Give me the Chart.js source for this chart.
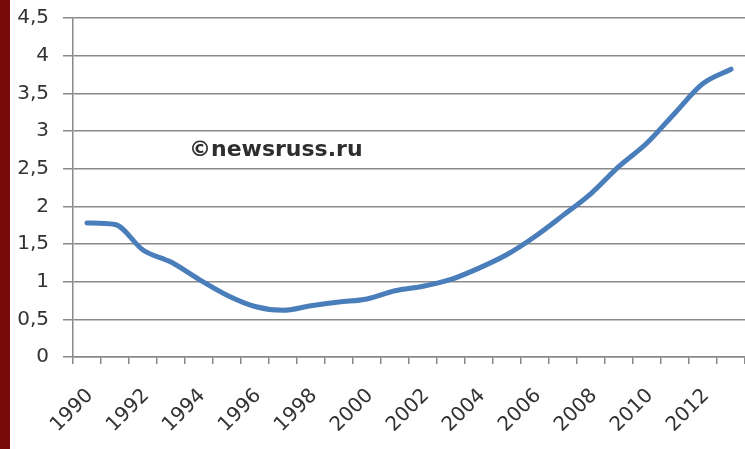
<!DOCTYPE html>
<html>
<head>
<meta charset="utf-8">
<script src="https://cdn.jsdelivr.net/npm/chart.js@4.4.1/dist/chart.umd.min.js"></script>
<style>
  body { margin: 0; background: #fff; }
  #wrap { position: relative; width: 745px; height: 449px; overflow: hidden; }
  #strip { position: absolute; left: 0; top: 0; width: 10px; height: 449px; background: #7a0a0a; }
  #box { position: absolute; left: 10px; top: 0; width: 735px; height: 449px; }
  #mark {
    position: absolute; left: 189px; top: 138px;
    font: bold 22px/22px "DejaVu Sans", sans-serif; color: #2e2e2e;
  }
</style>
</head>
<body>
<div id="wrap">
  <div id="strip"></div>
  <div id="box"><canvas id="chart"></canvas></div>
  <div id="mark">©newsruss.ru</div>
</div>
<script>
const years = [
  "1990", "1991", "1992", "1993", "1994", "1995", "1996", "1997",
  "1998", "1999", "2000", "2001", "2002", "2003", "2004", "2005",
  "2006", "2007", "2008", "2009", "2010", "2011", "2012", "2013",
];
const values = [
  1.78, 1.76, 1.42, 1.26, 1.03, 0.82, 0.67, 0.62,
  0.68, 0.73, 0.77, 0.88, 0.94, 1.03, 1.18, 1.36,
  1.6, 1.88, 2.17, 2.53, 2.84, 3.24, 3.63, 3.82,
];
const yMin = 0;
const yMax = 4.5;
const yStep = 0.5;

const config = {
  type: "line",
  data: {
    labels: years,
    datasets: [
      {
        data: values,
        borderColor: "#4a7ebb",
        borderWidth: 5,
        borderCapStyle: "round",
        borderJoinStyle: "round",
        cubicInterpolationMode: "monotone",
        pointRadius: 0,
        fill: false,
      },
    ],
  },
  options: {
    responsive: true,
    maintainAspectRatio: false,
    animation: false,
    layout: { padding: { top: 18, right: 0, left: 0, bottom: 0 } },
    plugins: {
      legend: { display: false },
      tooltip: { enabled: false },
    },
    scales: {
      x: {
        offset: true,
        grid: {
          offset: true,
          drawOnChartArea: false,
          tickLength: 7,
          color: "#8a8a8a",
          lineWidth: 1.5,
        },
        border: { color: "#8a8a8a", width: 1.5 },
        ticks: {
          autoSkip: false,
          minRotation: 45,
          maxRotation: 45,
          padding: 20,
          labelOffset: 3,
          color: "#333",
          font: { family: "DejaVu Sans", size: 20 },
          callback: (value, index) => (index % 2 === 0 ? years[index] : ""),
        },
        afterFit: (scale) => {
          scale.height = 92;
          scale.paddingLeft = 0;
          scale.paddingRight = 0;
        },
      },
      y: {
        min: yMin,
        max: yMax,
        grid: {
          color: "#8a8a8a",
          lineWidth: 1.5,
          tickLength: 10,
        },
        border: { color: "#8a8a8a", width: 1.5 },
        ticks: {
          stepSize: yStep,
          padding: 14,
          color: "#333",
          font: { family: "DejaVu Sans", size: 20 },
          callback: (value) => String(value).replace(".", ","),
        },
        afterFit: (scale) => {
          scale.width = 63;
          scale.paddingTop = 0;
          scale.paddingBottom = 0;
        },
      },
    },
  },
};

new Chart(document.getElementById("chart"), config);
</script>
</body>
</html>
